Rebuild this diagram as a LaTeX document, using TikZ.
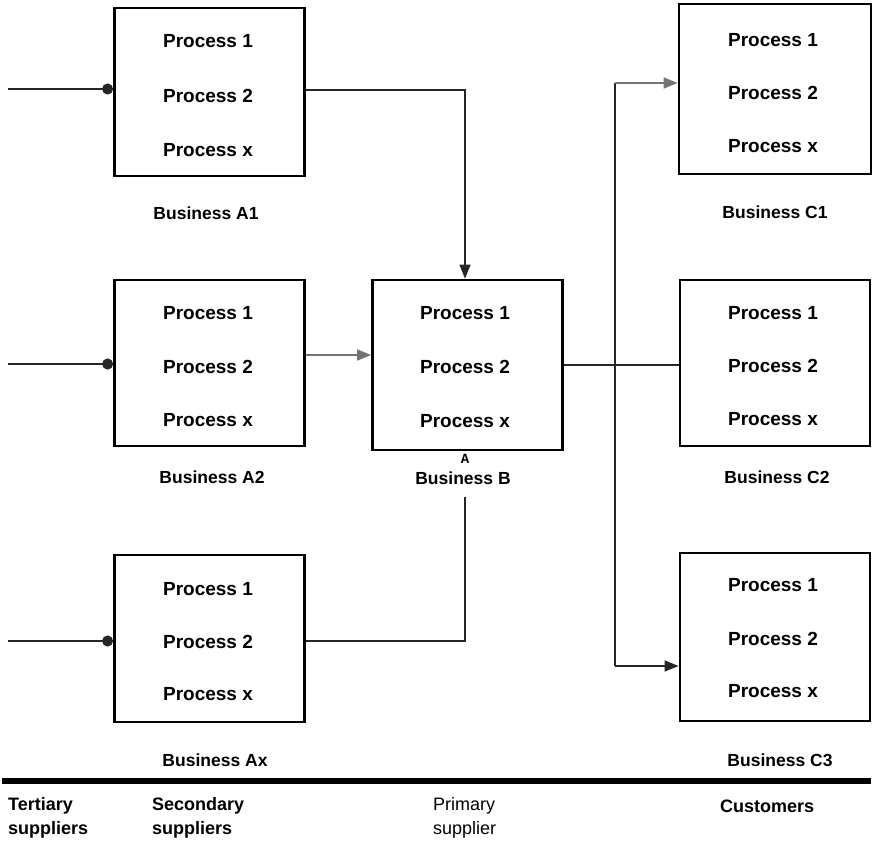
\documentclass[tikz,border=0pt]{standalone}
\usepackage{fontspec}
\setmainfont{Liberation Sans}
\setmonofont{Liberation Mono}
\usetikzlibrary{arrows.meta}
\begin{document}
\begin{tikzpicture}[x=1pt,y=-1pt,
  bizbox/.style={draw, line width=2.8pt, minimum width=190pt, minimum height=168pt, inner sep=0pt},
  proc/.style={font=\fontsize{19}{21}\selectfont\bfseries, inner sep=0pt},
  bizname/.style={font=\fontsize{17.5}{20}\selectfont\bfseries, inner sep=0pt},
  tier/.style={font=\fontsize{18}{24}\selectfont\bfseries, align=left, anchor=west, inner sep=0pt},
  link/.style={line width=1.3pt, black!85},
  arr/.style={link, -{Triangle[length=14pt,width=11pt]}},
  grayarr/.style={line width=1.7pt, black!55, -{Triangle[length=14pt,width=11pt]}},
  feed/.style={link, -{Circle[length=11pt]}}
]
\useasboundingbox (0,0) rectangle (873,847);

% supplier / customer boxes
\node[bizbox] (A1) at (209.5,92) {};
\node[bizbox, minimum height=166pt] (A2) at (209.5,363) {};
\node[bizbox, minimum height=167pt] (Ax) at (209.5,638.5) {};
\node[bizbox, minimum height=170pt] (B) at (467.5,365) {};
\node[bizbox, minimum width=192pt, minimum height=170pt] (C1) at (775,89) {};
\node[bizbox, minimum height=166pt] (C2) at (775,363) {};
\node[bizbox] (C3) at (775,637) {};

% process lines inside each box
\node[proc] (A1p1) at (208,41) {Process 1};
\node[proc] (A1p2) at (208,96) {Process 2};
\node[proc] (A1px) at (208,150) {Process x};
\node[proc] (A2p1) at (208,313) {Process 1};
\node[proc] (A2p2) at (208,367) {Process 2};
\node[proc] (A2px) at (208,420) {Process x};
\node[proc] (Axp1) at (208,589) {Process 1};
\node[proc] (Axp2) at (208,642) {Process 2};
\node[proc] (Axpx) at (208,694) {Process x};
\node[proc] (Bp1) at (465,313) {Process 1};
\node[proc] (Bp2) at (465,367) {Process 2};
\node[proc] (Bpx) at (465,421) {Process x};
\node[proc] (C1p1) at (773,40) {Process 1};
\node[proc] (C1p2) at (773,93) {Process 2};
\node[proc] (C1px) at (773,146) {Process x};
\node[proc] (C2p1) at (773,313) {Process 1};
\node[proc] (C2p2) at (773,366) {Process 2};
\node[proc] (C2px) at (773,419) {Process x};
\node[proc] (C3p1) at (773,585) {Process 1};
\node[proc] (C3p2) at (773,639) {Process 2};
\node[proc] (C3px) at (773,691) {Process x};

% business names
\node[bizname] (nA1) at (206,213) {Business A1};
\node[bizname] (nA2) at (212,477) {Business A2};
\node[bizname] (nAx) at (215,760) {Business Ax};
\node[font=\ttfamily\bfseries\fontsize{14}{14}\selectfont, inner sep=0pt] (mB) at (465,459) {A};
\node[bizname] (nB) at (463,478) {Business B};
\node[bizname] (nC1) at (775,212) {Business C1};
\node[bizname] (nC2) at (777,477) {Business C2};
\node[bizname] (nC3) at (780,760) {Business C3};

% incoming feeds from tertiary suppliers
\coordinate (t1) at (8,89);
\coordinate (t2) at (8,364);
\coordinate (t3) at (8,641);
\draw[feed] (t1) -- (A1.west |- t1);
\draw[feed] (t2) -- (A2.west |- t2);
\draw[feed] (t3) -- (Ax.west |- t3);

% secondary suppliers to primary supplier
\draw[arr] (A1.east |- 0,90) -| ([xshift=-2.5pt]B.north);
\draw[grayarr] (A2.east |- 0,355) -- (B.west |- 0,355);
\coordinate (bup) at (465,497);
\draw[link] (Ax.east |- 0,641) -| (bup);

% primary supplier to customers
\draw[link] (B.east |- 0,365) -- (C2.west |- 0,365);
\coordinate (j1) at (615,83);
\coordinate (j3) at (615,666);
\draw[link] (j1) -- (j3);
\draw[grayarr] (j1) -- (C1.west |- j1);
\draw[arr] (j3) -- (C3.west |- j3);

% tier rule and tier names
\draw[line width=5.5pt] (2,781) -- (871,781);
\node[tier] (tT) at (8,818) {Tertiary\\suppliers};
\node[tier] (tS) at (152,818) {Secondary\\suppliers};
\node[tier, font=\fontsize{18}{24}\selectfont] (tP) at (433,818) {Primary\\supplier};
\node[tier] (tC) at (720,806) {Customers};
\end{tikzpicture}
\end{document}
